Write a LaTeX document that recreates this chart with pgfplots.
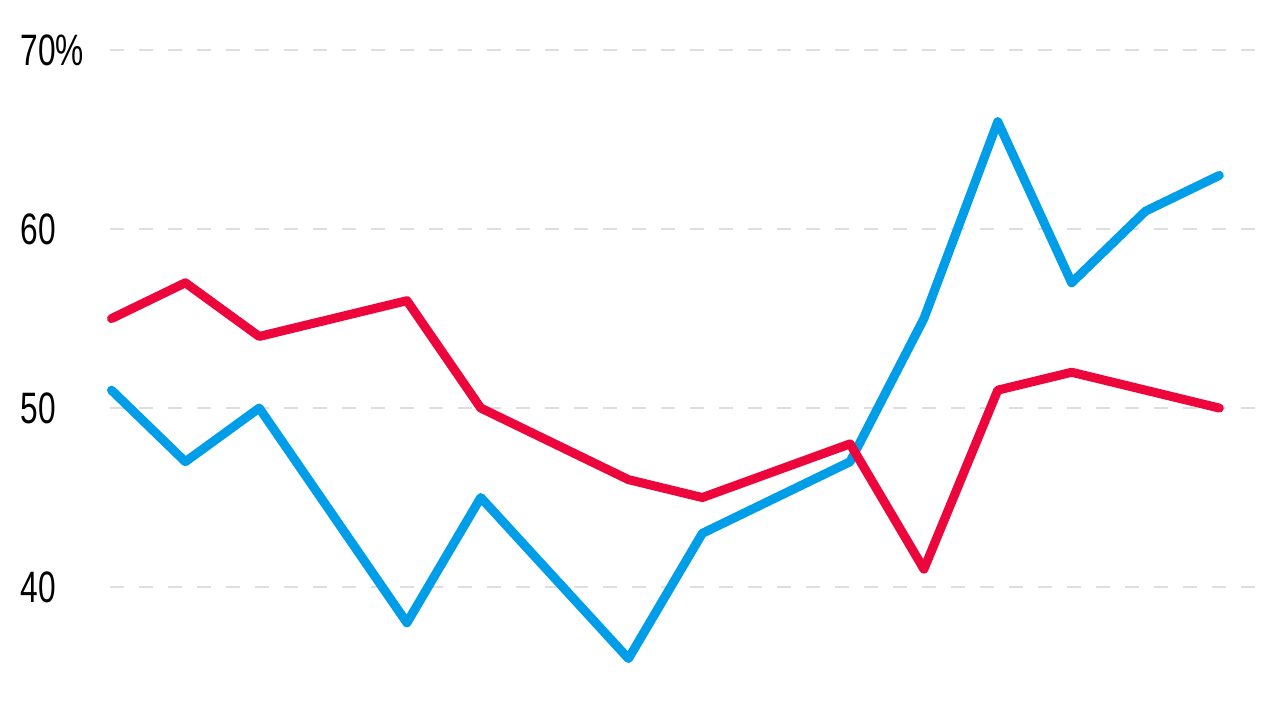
\documentclass[border=0pt]{standalone}
\usepackage{fontspec}
\setmainfont[FakeStretch=0.72]{Liberation Sans}
\usepackage{pgfplots}
\pgfplotsset{compat=1.18}

\definecolor{lineblue}{RGB}{0,158,232}
\definecolor{linered}{RGB}{236,6,60}
\definecolor{gridgray}{RGB}{222,222,226}

\begin{document}
\begin{tikzpicture}
\path[use as bounding box] (0,0) rectangle (640pt,360pt);
\begin{axis}[
	at={(55pt,0pt)}, anchor=south west,
	scale only axis,
	width=573.5pt, height=360pt,
	xmin=-0.02, xmax=15.51,
	ymin=32.57, ymax=72.8,
	axis line style={draw=none},
	hide x axis,
	ytick={40,50,60,70},
	yticklabels={40,50,60,70\%},
	major tick length=0pt,
	ymajorgrids,
	major grid style={gridgray, line width=1pt, dash pattern=on 7pt off 7.5pt},
	yticklabel style={anchor=west, inner sep=0pt, xshift=-45pt, font=\fontsize{22}{22}\selectfont},
	/pgf/number format/assume math mode=true,
	clip=false,
]
\addplot[lineblue, line width=4.5pt, line cap=round, line join=round] coordinates {
	(0,51) (1,47) (2,50) (3,44) (4,38) (5,45) (6,40.5) (7,36)
	(8,43) (9,45) (10,47) (11,55) (12,66) (13,57) (14,61) (15,63)
};
\addplot[linered, line width=4.5pt, line cap=round, line join=round] coordinates {
	(0,55) (1,57) (2,54) (3,55) (4,56) (5,50) (6,48) (7,46)
	(8,45) (9,46.5) (10,48) (11,41) (12,51) (13,52) (14,51) (15,50)
};
\end{axis}
\end{tikzpicture}
\end{document}
